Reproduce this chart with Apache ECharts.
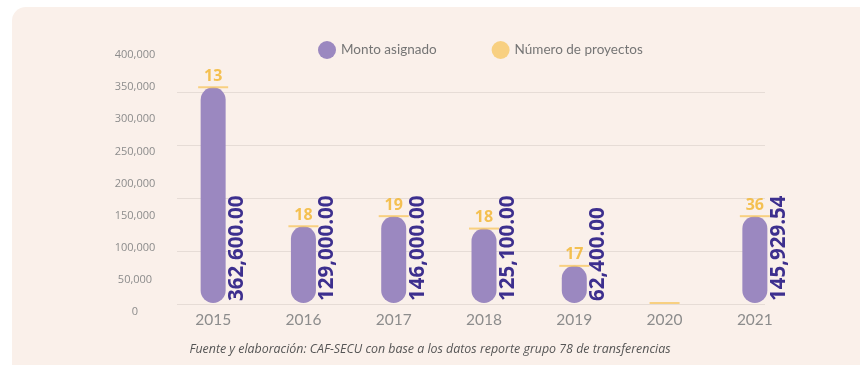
<!DOCTYPE html>
<html>
<head>
<meta charset="utf-8">
<script src="https://cdn.jsdelivr.net/npm/echarts@6/dist/echarts.min.js"></script>
<style>
  html, body { margin: 0; padding: 0; background: #ffffff; }
  #chart { width: 860px; height: 365px; }
</style>
</head>
<body>
<div id="chart"></div>
<script>
// Years on the category axis
const years = ['2015', '2016', '2017', '2018', '2019', '2020', '2021'];
// Amount assigned per year
const montoAsignado = [362600.00, 129000.00, 146000.00, 125100.00, 62400.00, 0, 145929.54];
// Number of projects per year
const numeroProyectos = [13, 18, 19, 18, 17, 0, 36];
// Tick labels of the left scale
const escalaTicks = [0, 50000, 100000, 150000, 200000, 250000, 300000, 350000, 400000];

const PURPLE = '#9b88c0';
const LABEL_PURPLE = '#3d2f8e';
const YELLOW = '#f8c867';
const YELLOW_TEXT = '#f2b42a';
const GREY = '#8c8c8c';

const fmtMonto = v => v.toLocaleString('en-US', { minimumFractionDigits: 2, maximumFractionDigits: 2 });
const fmtTick = v => v.toLocaleString('en-US');

const chart = echarts.init(document.getElementById('chart'));

chart.setOption({
  backgroundColor: '#ffffff',
  animation: false,
  graphic: [
    {
      type: 'rect',
      shape: { x: 12, y: 7, width: 880, height: 380, r: 14 },
      style: { fill: '#faf0ea' },
      z: -10
    },
    {
      type: 'text',
      left: 'center',
      top: 343,
      style: {
        text: 'Fuente y elaboración: CAF-SECU con base a los datos reporte grupo 78 de transferencias',
        font: 'italic 12.4px "Open Sans"',
        fill: '#555555'
      },
      x: 26
    }
  ],
  legend: {
    top: 36,
    left: 313,
    itemWidth: 18,
    itemHeight: 18,
    itemGap: 55,
    icon: 'circle',
    textStyle: { color: '#757575', fontSize: 13.5, fontFamily: 'Lato' },
    data: ['Monto asignado', 'Número de proyectos']
  },
  grid: [
    // scale labels
    { left: 143, top: 55, width: 10, height: 257 },
    // bars
    { left: 168, top: 65, width: 632, height: 238 },
    // horizontal guide lines
    { left: 177, top: 92, width: 588, height: 212 }
  ],
  xAxis: [
    { gridIndex: 0, type: 'category', data: [''], show: false },
    {
      gridIndex: 1,
      type: 'category',
      data: years,
      axisLine: { show: false },
      axisTick: { show: false },
      axisLabel: { color: GREY, fontSize: 15.5, fontFamily: 'Lato', margin: 9 }
    },
    { gridIndex: 2, type: 'value', show: false }
  ],
  yAxis: [
    {
      gridIndex: 0,
      type: 'value',
      min: escalaTicks[0],
      max: escalaTicks[escalaTicks.length - 1],
      interval: escalaTicks[1] - escalaTicks[0],
      axisLine: { show: false },
      axisTick: { show: false },
      splitLine: { show: false },
      axisLabel: {
        color: GREY,
        fontSize: 11,
        fontFamily: 'Open Sans',
        align: 'center',
        margin: 8,
        formatter: v => fmtTick(v)
      }
    },
    {
      gridIndex: 1,
      type: 'value',
      min: 0,
      max: 400000,
      show: false
    },
    {
      gridIndex: 2,
      type: 'value',
      min: 0,
      max: 4,
      interval: 1,
      axisLine: { show: false },
      axisTick: { show: false },
      axisLabel: { show: false },
      splitLine: { lineStyle: { color: '#e6dcd6', width: 1 } }
    }
  ],
  series: [
    {
      name: 'Monto asignado',
      type: 'bar',
      xAxisIndex: 1,
      yAxisIndex: 1,
      data: montoAsignado,
      barWidth: 25,
      itemStyle: { color: PURPLE, borderRadius: 12.5 },
      label: {
        show: true,
        position: 'insideBottom',
        rotate: 90,
        align: 'left',
        verticalAlign: 'middle',
        distance: 2,
        offset: [0, 24],
        color: LABEL_PURPLE,
        fontSize: 20.5,
        fontWeight: 'bold',
        fontFamily: 'Open Sans',
        formatter: p => (p.value ? fmtMonto(p.value) : '')
      },
      z: 3
    },
    {
      name: 'Número de proyectos',
      type: 'scatter',
      xAxisIndex: 1,
      yAxisIndex: 1,
      data: montoAsignado.map((m, i) => ({ value: m, proyectos: numeroProyectos[i] })),
      symbol: 'rect',
      symbolSize: [30, 2],
      itemStyle: { color: YELLOW },
      label: {
        show: true,
        position: 'top',
        distance: 2,
        color: YELLOW_TEXT,
        fontSize: 16,
        fontWeight: 'bold',
        fontFamily: 'Open Sans',
        formatter: p => (p.data.proyectos ? String(p.data.proyectos) : '')
      },
      z: 4
    }
  ]
});
</script>
</body>
</html>
